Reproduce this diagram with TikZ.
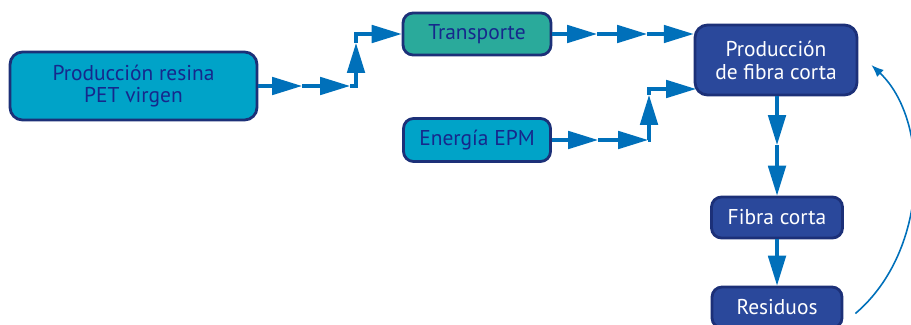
\documentclass[tikz,border=0pt]{standalone}
\usepackage{fontspec}
\setmainfont{PT Sans}
\usetikzlibrary{arrows.meta, positioning, calc}
\definecolor{cyanfill}{RGB}{0,163,200}
\definecolor{tealfill}{RGB}{42,170,155}
\definecolor{navyfill}{RGB}{42,72,155}
\definecolor{edgeblue}{RGB}{28,48,120}
\definecolor{flowblue}{RGB}{0,112,186}
\definecolor{textblue}{RGB}{22,40,140}
\tikzset{
	lightbox/.style={draw=edgeblue, line width=1.6pt, rounded corners=0.25cm, text=textblue, align=center, font=\fontsize{12.2}{13}\selectfont, inner sep=0pt},
	darkbox/.style={lightbox, fill=navyfill, text=white},
	flow/.style={draw=flowblue, line width=1.8pt, -{Triangle[length=17pt, width=10pt]}},
	back/.style={draw=flowblue, line width=0.9pt, -{Latex[length=7pt, width=5.5pt]}}
}

\begin{document}
\begin{tikzpicture}[x=0.02cm, y=-0.02cm]
	\useasboundingbox (0,0) rectangle (911,324);
	\node[lightbox, fill=cyanfill, minimum width=4.94cm, minimum height=1.36cm] (PET) at (133.5,86) {Producción resina\\PET virgen};
	\node[lightbox, fill=tealfill, minimum width=2.96cm, minimum height=0.84cm, rounded corners=0.2cm] (T) at (477,34) {Transporte};
	\node[lightbox, fill=cyanfill, minimum width=2.94cm, minimum height=0.86cm, rounded corners=0.2cm] (E) at (477,140) {Energía EPM};
	\node[darkbox, minimum width=3.24cm, minimum height=1.4cm] (P) at (776,60) {Producción\\de fibra corta};
	\node[darkbox, minimum width=2.62cm, minimum height=0.82cm, rounded corners=0.2cm] (F) at (777,217.5) {Fibra corta};
	\node[darkbox, minimum width=2.6cm, minimum height=0.82cm, rounded corners=0.2cm] (R) at (777,307.5) {Residuos};

	\coordinate (a1) at (302,86);
	\coordinate (a2) at (350,86);
	\coordinate (a3) at (356,43);
	\draw[flow] (PET.east) -- (a1);
	\draw[flow] (a1) -- (a2);
	\draw[flow] (a2) -| (a3);
	\draw[flow] (a3) |- (T.west);

	\coordinate (t1) at (597,34);
	\coordinate (t2) at (647,34);
	\draw[flow] (T.east) -- (t1);
	\draw[flow] (t1) -- (t2);
	\draw[flow] (t2) -- (P.west |- T.east);

	\coordinate (e1) at (598,140);
	\coordinate (e2) at (648,140);
	\coordinate (e3) at (649,95);
	\coordinate (e4) at (696,89);
	\draw[flow] (E.east) -- (e1);
	\draw[flow] (e1) -- (e2);
	\draw[flow] (e2) -| (e3);
	\draw[flow] (e3) |- (e4);

	\coordinate (d1) at (777,145);
	\draw[flow] (P.south -| d1) -- (d1);
	\draw[flow] (d1) -- (F.north);
	\draw[flow] (F.south) -- (R.north);

	\coordinate (r1) at ([shift={(12,6)}]R.east);
	\coordinate (r2) at ([shift={(13,5)}]P.east);
	\draw[back] (r1) .. controls (930,250) and (930,120) .. (r2);
\end{tikzpicture}
\end{document}
